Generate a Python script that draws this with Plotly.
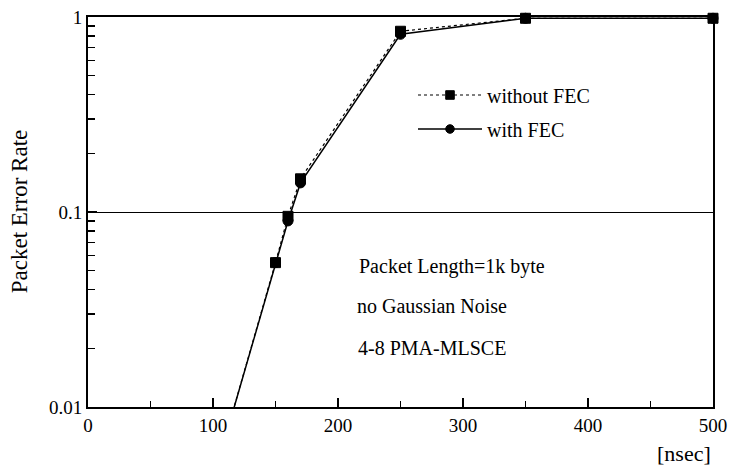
import plotly.graph_objects as go

# Data
delay_ns = [100, 150, 160, 170, 250, 350, 500]
per_without_fec = [0.0042, 0.055, 0.095, 0.148, 0.845, 0.985, 0.985]
per_with_fec = [0.0042, 0.055, 0.090, 0.141, 0.815, 0.985, 0.985]
marker_sizes = [0, 10, 10, 10, 10, 10, 10]

y_tickvals = [0.01, 0.1, 1]
y_ticktext = ["0.01", "0.1", "1"]
y_minor = [0.02, 0.03, 0.04, 0.05, 0.06, 0.07, 0.08, 0.09,
           0.2, 0.3, 0.4, 0.5, 0.6, 0.7, 0.8, 0.9]
x_tickvals = [0, 100, 200, 300, 400, 500]
x_minor = [50, 150, 250, 350, 450]

notes = ["Packet Length=1k byte", "no Gaussian Noise", "4-8 PMA-MLSCE"]

FONT = "Liberation Serif"

fig = go.Figure()
fig.add_trace(go.Scatter(
    x=delay_ns, y=per_without_fec, name="without FEC",
    mode="lines+markers", legendgroup="a",
    line=dict(color="#000000", width=1.2, dash="3px,3px"),
    marker=dict(symbol="square", size=marker_sizes, color="#000000",
                opacity=1, line=dict(width=1, color="#000000")),
    cliponaxis=False,
))
fig.add_trace(go.Scatter(
    x=delay_ns, y=per_with_fec, name="with FEC",
    mode="lines+markers", legendgroup="b",
    line=dict(color="#000000", width=1.5),
    marker=dict(symbol="circle", size=marker_sizes, color="#000000",
                opacity=1, line=dict(width=1, color="#000000")),
    cliponaxis=False,
))

fig.update_layout(
    template="none",
    width=731, height=471,
    margin=dict(l=88, r=18, t=17, b=64, autoexpand=False),
    paper_bgcolor="white", plot_bgcolor="white",
    font=dict(family=FONT, size=19, color="black"),
    showlegend=True,
    legend=dict(
        x=0.52, y=0.85, xanchor="left", yanchor="top",
        bgcolor="rgba(0,0,0,0)", borderwidth=0, font=dict(size=20),
        traceorder="grouped", tracegroupgap=5,
        itemwidth=64,
    ),
    xaxis=dict(
        range=[0, 500], tickvals=x_tickvals, automargin=False,
        ticks="inside", ticklen=9, tickwidth=1.2, tickcolor="black",
        minor=dict(tickvals=x_minor, ticks="inside", ticklen=6, tickwidth=1.2,
                   tickcolor="black", showgrid=False),
        showline=True, linewidth=2, linecolor="black", mirror=True,
        showgrid=False, zeroline=False,
        tickfont=dict(size=19),
    ),
    yaxis=dict(
        type="log", range=[-2, 0], tickvals=y_tickvals, ticktext=y_ticktext,
        automargin=False,
        ticks="inside", ticklen=9, tickwidth=1.2, tickcolor="black",
        minor=dict(tickvals=y_minor, ticks="inside", ticklen=7, tickwidth=1.2,
                   tickcolor="black", showgrid=False),
        showline=True, linewidth=2, linecolor="black", mirror=True,
        showgrid=True, gridcolor="black", gridwidth=1,
        zeroline=False, tickfont=dict(size=19),
    ),
)

# Y-axis title
fig.add_annotation(
    text="Packet Error Rate", xref="paper", yref="paper",
    x=-0.110, y=0.5, xanchor="center", yanchor="middle",
    textangle=-90, showarrow=False, font=dict(size=23),
)
# X-axis unit label
fig.add_annotation(
    text="[nsec]", xref="paper", yref="paper",
    x=1.0, y=-0.118, xanchor="right", yanchor="middle",
    showarrow=False, font=dict(size=22),
)
# Notes
note_y = [0.3615, 0.259, 0.151]
note_x = [0.4296, 0.4276, 0.4286]
for t, xx, yy in zip(notes, note_x, note_y):
    fig.add_annotation(
        text=t, xref="paper", yref="paper", x=xx, y=yy,
        xanchor="left", yanchor="middle", showarrow=False,
        font=dict(size=20),
    )

fig.write_html(
    "out.html",
    config={"displayModeBar": False, "staticPlot": True},
    post_script="document.body.style.margin='0';document.body.style.overflow='hidden';",
)
